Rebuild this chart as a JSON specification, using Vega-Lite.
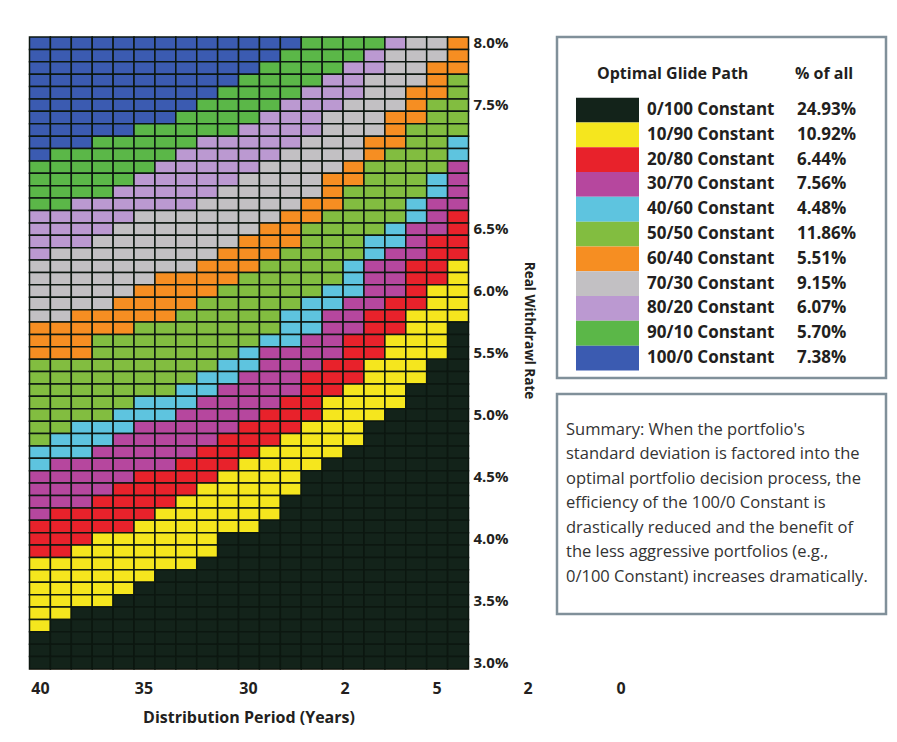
{
"$schema":"https://vega.github.io/schema/vega-lite/v6.json",
"background":"white",
"padding":{"left":28,"top":35,"right":4,"bottom":4},
"bounds":"flush",
"spacing":89,
"config":{"font":"Open Sans","view":{"stroke":null}},
"hconcat":[
{
"width":439,"height":632,
"view":{"stroke":"#f1c6b5","strokeWidth":1},
"layer":[
{
"data":{"values":[
{"yr":40,"rate":8,"eq":100},{"yr":39,"rate":8,"eq":100},{"yr":38,"rate":8,"eq":100},{"yr":37,"rate":8,"eq":100},{"yr":36,"rate":8,"eq":100},{"yr":35,"rate":8,"eq":100},{"yr":34,"rate":8,"eq":100},{"yr":33,"rate":8,"eq":100},{"yr":32,"rate":8,"eq":100},{"yr":31,"rate":8,"eq":100},{"yr":30,"rate":8,"eq":100},{"yr":29,"rate":8,"eq":100},{"yr":28,"rate":8,"eq":100},{"yr":27,"rate":8,"eq":90},{"yr":26,"rate":8,"eq":90},{"yr":25,"rate":8,"eq":90},{"yr":24,"rate":8,"eq":90},{"yr":23,"rate":8,"eq":80},{"yr":22,"rate":8,"eq":70},{"yr":21,"rate":8,"eq":70},{"yr":20,"rate":8,"eq":60},
{"yr":40,"rate":7.9,"eq":100},{"yr":39,"rate":7.9,"eq":100},{"yr":38,"rate":7.9,"eq":100},{"yr":37,"rate":7.9,"eq":100},{"yr":36,"rate":7.9,"eq":100},{"yr":35,"rate":7.9,"eq":100},{"yr":34,"rate":7.9,"eq":100},{"yr":33,"rate":7.9,"eq":100},{"yr":32,"rate":7.9,"eq":100},{"yr":31,"rate":7.9,"eq":100},{"yr":30,"rate":7.9,"eq":100},{"yr":29,"rate":7.9,"eq":100},{"yr":28,"rate":7.9,"eq":90},{"yr":27,"rate":7.9,"eq":90},{"yr":26,"rate":7.9,"eq":90},{"yr":25,"rate":7.9,"eq":90},{"yr":24,"rate":7.9,"eq":80},{"yr":23,"rate":7.9,"eq":70},{"yr":22,"rate":7.9,"eq":70},{"yr":21,"rate":7.9,"eq":70},{"yr":20,"rate":7.9,"eq":60},
{"yr":40,"rate":7.8,"eq":100},{"yr":39,"rate":7.8,"eq":100},{"yr":38,"rate":7.8,"eq":100},{"yr":37,"rate":7.8,"eq":100},{"yr":36,"rate":7.8,"eq":100},{"yr":35,"rate":7.8,"eq":100},{"yr":34,"rate":7.8,"eq":100},{"yr":33,"rate":7.8,"eq":100},{"yr":32,"rate":7.8,"eq":100},{"yr":31,"rate":7.8,"eq":100},{"yr":30,"rate":7.8,"eq":100},{"yr":29,"rate":7.8,"eq":90},{"yr":28,"rate":7.8,"eq":90},{"yr":27,"rate":7.8,"eq":90},{"yr":26,"rate":7.8,"eq":90},{"yr":25,"rate":7.8,"eq":80},{"yr":24,"rate":7.8,"eq":80},{"yr":23,"rate":7.8,"eq":70},{"yr":22,"rate":7.8,"eq":70},{"yr":21,"rate":7.8,"eq":60},{"yr":20,"rate":7.8,"eq":60},
{"yr":40,"rate":7.7,"eq":100},{"yr":39,"rate":7.7,"eq":100},{"yr":38,"rate":7.7,"eq":100},{"yr":37,"rate":7.7,"eq":100},{"yr":36,"rate":7.7,"eq":100},{"yr":35,"rate":7.7,"eq":100},{"yr":34,"rate":7.7,"eq":100},{"yr":33,"rate":7.7,"eq":100},{"yr":32,"rate":7.7,"eq":100},{"yr":31,"rate":7.7,"eq":100},{"yr":30,"rate":7.7,"eq":90},{"yr":29,"rate":7.7,"eq":90},{"yr":28,"rate":7.7,"eq":90},{"yr":27,"rate":7.7,"eq":90},{"yr":26,"rate":7.7,"eq":80},{"yr":25,"rate":7.7,"eq":80},{"yr":24,"rate":7.7,"eq":70},{"yr":23,"rate":7.7,"eq":70},{"yr":22,"rate":7.7,"eq":70},{"yr":21,"rate":7.7,"eq":60},{"yr":20,"rate":7.7,"eq":50},
{"yr":40,"rate":7.6,"eq":100},{"yr":39,"rate":7.6,"eq":100},{"yr":38,"rate":7.6,"eq":100},{"yr":37,"rate":7.6,"eq":100},{"yr":36,"rate":7.6,"eq":100},{"yr":35,"rate":7.6,"eq":100},{"yr":34,"rate":7.6,"eq":100},{"yr":33,"rate":7.6,"eq":100},{"yr":32,"rate":7.6,"eq":100},{"yr":31,"rate":7.6,"eq":90},{"yr":30,"rate":7.6,"eq":90},{"yr":29,"rate":7.6,"eq":90},{"yr":28,"rate":7.6,"eq":90},{"yr":27,"rate":7.6,"eq":80},{"yr":26,"rate":7.6,"eq":80},{"yr":25,"rate":7.6,"eq":80},{"yr":24,"rate":7.6,"eq":70},{"yr":23,"rate":7.6,"eq":70},{"yr":22,"rate":7.6,"eq":60},{"yr":21,"rate":7.6,"eq":60},{"yr":20,"rate":7.6,"eq":50},
{"yr":40,"rate":7.5,"eq":100},{"yr":39,"rate":7.5,"eq":100},{"yr":38,"rate":7.5,"eq":100},{"yr":37,"rate":7.5,"eq":100},{"yr":36,"rate":7.5,"eq":100},{"yr":35,"rate":7.5,"eq":100},{"yr":34,"rate":7.5,"eq":100},{"yr":33,"rate":7.5,"eq":100},{"yr":32,"rate":7.5,"eq":90},{"yr":31,"rate":7.5,"eq":90},{"yr":30,"rate":7.5,"eq":90},{"yr":29,"rate":7.5,"eq":90},{"yr":28,"rate":7.5,"eq":80},{"yr":27,"rate":7.5,"eq":80},{"yr":26,"rate":7.5,"eq":80},{"yr":25,"rate":7.5,"eq":70},{"yr":24,"rate":7.5,"eq":70},{"yr":23,"rate":7.5,"eq":70},{"yr":22,"rate":7.5,"eq":60},{"yr":21,"rate":7.5,"eq":50},{"yr":20,"rate":7.5,"eq":50},
{"yr":40,"rate":7.4,"eq":100},{"yr":39,"rate":7.4,"eq":100},{"yr":38,"rate":7.4,"eq":100},{"yr":37,"rate":7.4,"eq":100},{"yr":36,"rate":7.4,"eq":100},{"yr":35,"rate":7.4,"eq":100},{"yr":34,"rate":7.4,"eq":100},{"yr":33,"rate":7.4,"eq":90},{"yr":32,"rate":7.4,"eq":90},{"yr":31,"rate":7.4,"eq":90},{"yr":30,"rate":7.4,"eq":90},{"yr":29,"rate":7.4,"eq":80},{"yr":28,"rate":7.4,"eq":80},{"yr":27,"rate":7.4,"eq":80},{"yr":26,"rate":7.4,"eq":70},{"yr":25,"rate":7.4,"eq":70},{"yr":24,"rate":7.4,"eq":70},{"yr":23,"rate":7.4,"eq":60},{"yr":22,"rate":7.4,"eq":60},{"yr":21,"rate":7.4,"eq":50},{"yr":20,"rate":7.4,"eq":50},
{"yr":40,"rate":7.3,"eq":100},{"yr":39,"rate":7.3,"eq":100},{"yr":38,"rate":7.3,"eq":100},{"yr":37,"rate":7.3,"eq":100},{"yr":36,"rate":7.3,"eq":100},{"yr":35,"rate":7.3,"eq":90},{"yr":34,"rate":7.3,"eq":90},{"yr":33,"rate":7.3,"eq":90},{"yr":32,"rate":7.3,"eq":90},{"yr":31,"rate":7.3,"eq":90},{"yr":30,"rate":7.3,"eq":80},{"yr":29,"rate":7.3,"eq":80},{"yr":28,"rate":7.3,"eq":80},{"yr":27,"rate":7.3,"eq":80},{"yr":26,"rate":7.3,"eq":70},{"yr":25,"rate":7.3,"eq":70},{"yr":24,"rate":7.3,"eq":70},{"yr":23,"rate":7.3,"eq":60},{"yr":22,"rate":7.3,"eq":50},{"yr":21,"rate":7.3,"eq":50},{"yr":20,"rate":7.3,"eq":50},
{"yr":40,"rate":7.2,"eq":100},{"yr":39,"rate":7.2,"eq":100},{"yr":38,"rate":7.2,"eq":100},{"yr":37,"rate":7.2,"eq":90},{"yr":36,"rate":7.2,"eq":90},{"yr":35,"rate":7.2,"eq":90},{"yr":34,"rate":7.2,"eq":90},{"yr":33,"rate":7.2,"eq":90},{"yr":32,"rate":7.2,"eq":80},{"yr":31,"rate":7.2,"eq":80},{"yr":30,"rate":7.2,"eq":80},{"yr":29,"rate":7.2,"eq":80},{"yr":28,"rate":7.2,"eq":80},{"yr":27,"rate":7.2,"eq":70},{"yr":26,"rate":7.2,"eq":70},{"yr":25,"rate":7.2,"eq":70},{"yr":24,"rate":7.2,"eq":60},{"yr":23,"rate":7.2,"eq":60},{"yr":22,"rate":7.2,"eq":50},{"yr":21,"rate":7.2,"eq":50},{"yr":20,"rate":7.2,"eq":40},
{"yr":40,"rate":7.1,"eq":100},{"yr":39,"rate":7.1,"eq":90},{"yr":38,"rate":7.1,"eq":90},{"yr":37,"rate":7.1,"eq":90},{"yr":36,"rate":7.1,"eq":90},{"yr":35,"rate":7.1,"eq":90},{"yr":34,"rate":7.1,"eq":90},{"yr":33,"rate":7.1,"eq":80},{"yr":32,"rate":7.1,"eq":80},{"yr":31,"rate":7.1,"eq":80},{"yr":30,"rate":7.1,"eq":80},{"yr":29,"rate":7.1,"eq":80},{"yr":28,"rate":7.1,"eq":70},{"yr":27,"rate":7.1,"eq":70},{"yr":26,"rate":7.1,"eq":70},{"yr":25,"rate":7.1,"eq":70},{"yr":24,"rate":7.1,"eq":60},{"yr":23,"rate":7.1,"eq":50},{"yr":22,"rate":7.1,"eq":50},{"yr":21,"rate":7.1,"eq":50},{"yr":20,"rate":7.1,"eq":40},
{"yr":40,"rate":7,"eq":90},{"yr":39,"rate":7,"eq":90},{"yr":38,"rate":7,"eq":90},{"yr":37,"rate":7,"eq":90},{"yr":36,"rate":7,"eq":90},{"yr":35,"rate":7,"eq":90},{"yr":34,"rate":7,"eq":80},{"yr":33,"rate":7,"eq":80},{"yr":32,"rate":7,"eq":80},{"yr":31,"rate":7,"eq":80},{"yr":30,"rate":7,"eq":80},{"yr":29,"rate":7,"eq":70},{"yr":28,"rate":7,"eq":70},{"yr":27,"rate":7,"eq":70},{"yr":26,"rate":7,"eq":70},{"yr":25,"rate":7,"eq":60},{"yr":24,"rate":7,"eq":50},{"yr":23,"rate":7,"eq":50},{"yr":22,"rate":7,"eq":50},{"yr":21,"rate":7,"eq":50},{"yr":20,"rate":7,"eq":30},
{"yr":40,"rate":6.9,"eq":90},{"yr":39,"rate":6.9,"eq":90},{"yr":38,"rate":6.9,"eq":90},{"yr":37,"rate":6.9,"eq":90},{"yr":36,"rate":6.9,"eq":90},{"yr":35,"rate":6.9,"eq":80},{"yr":34,"rate":6.9,"eq":80},{"yr":33,"rate":6.9,"eq":80},{"yr":32,"rate":6.9,"eq":80},{"yr":31,"rate":6.9,"eq":80},{"yr":30,"rate":6.9,"eq":70},{"yr":29,"rate":6.9,"eq":70},{"yr":28,"rate":6.9,"eq":70},{"yr":27,"rate":6.9,"eq":70},{"yr":26,"rate":6.9,"eq":60},{"yr":25,"rate":6.9,"eq":60},{"yr":24,"rate":6.9,"eq":50},{"yr":23,"rate":6.9,"eq":50},{"yr":22,"rate":6.9,"eq":50},{"yr":21,"rate":6.9,"eq":40},{"yr":20,"rate":6.9,"eq":30},
{"yr":40,"rate":6.8,"eq":90},{"yr":39,"rate":6.8,"eq":90},{"yr":38,"rate":6.8,"eq":90},{"yr":37,"rate":6.8,"eq":90},{"yr":36,"rate":6.8,"eq":80},{"yr":35,"rate":6.8,"eq":80},{"yr":34,"rate":6.8,"eq":80},{"yr":33,"rate":6.8,"eq":80},{"yr":32,"rate":6.8,"eq":80},{"yr":31,"rate":6.8,"eq":70},{"yr":30,"rate":6.8,"eq":70},{"yr":29,"rate":6.8,"eq":70},{"yr":28,"rate":6.8,"eq":70},{"yr":27,"rate":6.8,"eq":70},{"yr":26,"rate":6.8,"eq":60},{"yr":25,"rate":6.8,"eq":50},{"yr":24,"rate":6.8,"eq":50},{"yr":23,"rate":6.8,"eq":50},{"yr":22,"rate":6.8,"eq":50},{"yr":21,"rate":6.8,"eq":40},{"yr":20,"rate":6.8,"eq":30},
{"yr":40,"rate":6.7,"eq":90},{"yr":39,"rate":6.7,"eq":90},{"yr":38,"rate":6.7,"eq":80},{"yr":37,"rate":6.7,"eq":80},{"yr":36,"rate":6.7,"eq":80},{"yr":35,"rate":6.7,"eq":80},{"yr":34,"rate":6.7,"eq":80},{"yr":33,"rate":6.7,"eq":80},{"yr":32,"rate":6.7,"eq":70},{"yr":31,"rate":6.7,"eq":70},{"yr":30,"rate":6.7,"eq":70},{"yr":29,"rate":6.7,"eq":70},{"yr":28,"rate":6.7,"eq":70},{"yr":27,"rate":6.7,"eq":60},{"yr":26,"rate":6.7,"eq":60},{"yr":25,"rate":6.7,"eq":50},{"yr":24,"rate":6.7,"eq":50},{"yr":23,"rate":6.7,"eq":50},{"yr":22,"rate":6.7,"eq":40},{"yr":21,"rate":6.7,"eq":30},{"yr":20,"rate":6.7,"eq":30},
{"yr":40,"rate":6.6,"eq":80},{"yr":39,"rate":6.6,"eq":80},{"yr":38,"rate":6.6,"eq":80},{"yr":37,"rate":6.6,"eq":80},{"yr":36,"rate":6.6,"eq":80},{"yr":35,"rate":6.6,"eq":70},{"yr":34,"rate":6.6,"eq":70},{"yr":33,"rate":6.6,"eq":70},{"yr":32,"rate":6.6,"eq":70},{"yr":31,"rate":6.6,"eq":70},{"yr":30,"rate":6.6,"eq":70},{"yr":29,"rate":6.6,"eq":70},{"yr":28,"rate":6.6,"eq":60},{"yr":27,"rate":6.6,"eq":60},{"yr":26,"rate":6.6,"eq":50},{"yr":25,"rate":6.6,"eq":50},{"yr":24,"rate":6.6,"eq":50},{"yr":23,"rate":6.6,"eq":50},{"yr":22,"rate":6.6,"eq":40},{"yr":21,"rate":6.6,"eq":30},{"yr":20,"rate":6.6,"eq":20},
{"yr":40,"rate":6.5,"eq":80},{"yr":39,"rate":6.5,"eq":80},{"yr":38,"rate":6.5,"eq":80},{"yr":37,"rate":6.5,"eq":80},{"yr":36,"rate":6.5,"eq":70},{"yr":35,"rate":6.5,"eq":70},{"yr":34,"rate":6.5,"eq":70},{"yr":33,"rate":6.5,"eq":70},{"yr":32,"rate":6.5,"eq":70},{"yr":31,"rate":6.5,"eq":70},{"yr":30,"rate":6.5,"eq":70},{"yr":29,"rate":6.5,"eq":60},{"yr":28,"rate":6.5,"eq":60},{"yr":27,"rate":6.5,"eq":50},{"yr":26,"rate":6.5,"eq":50},{"yr":25,"rate":6.5,"eq":50},{"yr":24,"rate":6.5,"eq":50},{"yr":23,"rate":6.5,"eq":40},{"yr":22,"rate":6.5,"eq":30},{"yr":21,"rate":6.5,"eq":30},{"yr":20,"rate":6.5,"eq":20},
{"yr":40,"rate":6.4,"eq":80},{"yr":39,"rate":6.4,"eq":80},{"yr":38,"rate":6.4,"eq":80},{"yr":37,"rate":6.4,"eq":70},{"yr":36,"rate":6.4,"eq":70},{"yr":35,"rate":6.4,"eq":70},{"yr":34,"rate":6.4,"eq":70},{"yr":33,"rate":6.4,"eq":70},{"yr":32,"rate":6.4,"eq":70},{"yr":31,"rate":6.4,"eq":70},{"yr":30,"rate":6.4,"eq":60},{"yr":29,"rate":6.4,"eq":60},{"yr":28,"rate":6.4,"eq":60},{"yr":27,"rate":6.4,"eq":50},{"yr":26,"rate":6.4,"eq":50},{"yr":25,"rate":6.4,"eq":50},{"yr":24,"rate":6.4,"eq":40},{"yr":23,"rate":6.4,"eq":40},{"yr":22,"rate":6.4,"eq":30},{"yr":21,"rate":6.4,"eq":20},{"yr":20,"rate":6.4,"eq":20},
{"yr":40,"rate":6.3,"eq":80},{"yr":39,"rate":6.3,"eq":70},{"yr":38,"rate":6.3,"eq":70},{"yr":37,"rate":6.3,"eq":70},{"yr":36,"rate":6.3,"eq":70},{"yr":35,"rate":6.3,"eq":70},{"yr":34,"rate":6.3,"eq":70},{"yr":33,"rate":6.3,"eq":70},{"yr":32,"rate":6.3,"eq":70},{"yr":31,"rate":6.3,"eq":60},{"yr":30,"rate":6.3,"eq":60},{"yr":29,"rate":6.3,"eq":60},{"yr":28,"rate":6.3,"eq":50},{"yr":27,"rate":6.3,"eq":50},{"yr":26,"rate":6.3,"eq":50},{"yr":25,"rate":6.3,"eq":50},{"yr":24,"rate":6.3,"eq":40},{"yr":23,"rate":6.3,"eq":30},{"yr":22,"rate":6.3,"eq":30},{"yr":21,"rate":6.3,"eq":20},{"yr":20,"rate":6.3,"eq":20},
{"yr":40,"rate":6.2,"eq":70},{"yr":39,"rate":6.2,"eq":70},{"yr":38,"rate":6.2,"eq":70},{"yr":37,"rate":6.2,"eq":70},{"yr":36,"rate":6.2,"eq":70},{"yr":35,"rate":6.2,"eq":70},{"yr":34,"rate":6.2,"eq":70},{"yr":33,"rate":6.2,"eq":70},{"yr":32,"rate":6.2,"eq":60},{"yr":31,"rate":6.2,"eq":60},{"yr":30,"rate":6.2,"eq":60},{"yr":29,"rate":6.2,"eq":50},{"yr":28,"rate":6.2,"eq":50},{"yr":27,"rate":6.2,"eq":50},{"yr":26,"rate":6.2,"eq":50},{"yr":25,"rate":6.2,"eq":40},{"yr":24,"rate":6.2,"eq":30},{"yr":23,"rate":6.2,"eq":30},{"yr":22,"rate":6.2,"eq":20},{"yr":21,"rate":6.2,"eq":20},{"yr":20,"rate":6.2,"eq":10},
{"yr":40,"rate":6.1,"eq":70},{"yr":39,"rate":6.1,"eq":70},{"yr":38,"rate":6.1,"eq":70},{"yr":37,"rate":6.1,"eq":70},{"yr":36,"rate":6.1,"eq":70},{"yr":35,"rate":6.1,"eq":70},{"yr":34,"rate":6.1,"eq":60},{"yr":33,"rate":6.1,"eq":60},{"yr":32,"rate":6.1,"eq":60},{"yr":31,"rate":6.1,"eq":60},{"yr":30,"rate":6.1,"eq":50},{"yr":29,"rate":6.1,"eq":50},{"yr":28,"rate":6.1,"eq":50},{"yr":27,"rate":6.1,"eq":50},{"yr":26,"rate":6.1,"eq":50},{"yr":25,"rate":6.1,"eq":40},{"yr":24,"rate":6.1,"eq":30},{"yr":23,"rate":6.1,"eq":30},{"yr":22,"rate":6.1,"eq":20},{"yr":21,"rate":6.1,"eq":20},{"yr":20,"rate":6.1,"eq":10},
{"yr":40,"rate":6,"eq":70},{"yr":39,"rate":6,"eq":70},{"yr":38,"rate":6,"eq":70},{"yr":37,"rate":6,"eq":70},{"yr":36,"rate":6,"eq":70},{"yr":35,"rate":6,"eq":60},{"yr":34,"rate":6,"eq":60},{"yr":33,"rate":6,"eq":60},{"yr":32,"rate":6,"eq":60},{"yr":31,"rate":6,"eq":50},{"yr":30,"rate":6,"eq":50},{"yr":29,"rate":6,"eq":50},{"yr":28,"rate":6,"eq":50},{"yr":27,"rate":6,"eq":50},{"yr":26,"rate":6,"eq":40},{"yr":25,"rate":6,"eq":40},{"yr":24,"rate":6,"eq":30},{"yr":23,"rate":6,"eq":30},{"yr":22,"rate":6,"eq":20},{"yr":21,"rate":6,"eq":10},{"yr":20,"rate":6,"eq":10},
{"yr":40,"rate":5.9,"eq":70},{"yr":39,"rate":5.9,"eq":70},{"yr":38,"rate":5.9,"eq":70},{"yr":37,"rate":5.9,"eq":70},{"yr":36,"rate":5.9,"eq":60},{"yr":35,"rate":5.9,"eq":60},{"yr":34,"rate":5.9,"eq":60},{"yr":33,"rate":5.9,"eq":60},{"yr":32,"rate":5.9,"eq":50},{"yr":31,"rate":5.9,"eq":50},{"yr":30,"rate":5.9,"eq":50},{"yr":29,"rate":5.9,"eq":50},{"yr":28,"rate":5.9,"eq":50},{"yr":27,"rate":5.9,"eq":40},{"yr":26,"rate":5.9,"eq":40},{"yr":25,"rate":5.9,"eq":30},{"yr":24,"rate":5.9,"eq":30},{"yr":23,"rate":5.9,"eq":20},{"yr":22,"rate":5.9,"eq":20},{"yr":21,"rate":5.9,"eq":10},{"yr":20,"rate":5.9,"eq":10},
{"yr":40,"rate":5.8,"eq":70},{"yr":39,"rate":5.8,"eq":70},{"yr":38,"rate":5.8,"eq":60},{"yr":37,"rate":5.8,"eq":60},{"yr":36,"rate":5.8,"eq":60},{"yr":35,"rate":5.8,"eq":60},{"yr":34,"rate":5.8,"eq":60},{"yr":33,"rate":5.8,"eq":50},{"yr":32,"rate":5.8,"eq":50},{"yr":31,"rate":5.8,"eq":50},{"yr":30,"rate":5.8,"eq":50},{"yr":29,"rate":5.8,"eq":50},{"yr":28,"rate":5.8,"eq":40},{"yr":27,"rate":5.8,"eq":40},{"yr":26,"rate":5.8,"eq":30},{"yr":25,"rate":5.8,"eq":30},{"yr":24,"rate":5.8,"eq":20},{"yr":23,"rate":5.8,"eq":20},{"yr":22,"rate":5.8,"eq":10},{"yr":21,"rate":5.8,"eq":10},{"yr":20,"rate":5.8,"eq":10},
{"yr":40,"rate":5.7,"eq":60},{"yr":39,"rate":5.7,"eq":60},{"yr":38,"rate":5.7,"eq":60},{"yr":37,"rate":5.7,"eq":60},{"yr":36,"rate":5.7,"eq":60},{"yr":35,"rate":5.7,"eq":50},{"yr":34,"rate":5.7,"eq":50},{"yr":33,"rate":5.7,"eq":50},{"yr":32,"rate":5.7,"eq":50},{"yr":31,"rate":5.7,"eq":50},{"yr":30,"rate":5.7,"eq":50},{"yr":29,"rate":5.7,"eq":50},{"yr":28,"rate":5.7,"eq":40},{"yr":27,"rate":5.7,"eq":40},{"yr":26,"rate":5.7,"eq":30},{"yr":25,"rate":5.7,"eq":30},{"yr":24,"rate":5.7,"eq":20},{"yr":23,"rate":5.7,"eq":20},{"yr":22,"rate":5.7,"eq":10},{"yr":21,"rate":5.7,"eq":10},{"yr":20,"rate":5.7,"eq":0},
{"yr":40,"rate":5.6,"eq":60},{"yr":39,"rate":5.6,"eq":60},{"yr":38,"rate":5.6,"eq":60},{"yr":37,"rate":5.6,"eq":50},{"yr":36,"rate":5.6,"eq":50},{"yr":35,"rate":5.6,"eq":50},{"yr":34,"rate":5.6,"eq":50},{"yr":33,"rate":5.6,"eq":50},{"yr":32,"rate":5.6,"eq":50},{"yr":31,"rate":5.6,"eq":50},{"yr":30,"rate":5.6,"eq":50},{"yr":29,"rate":5.6,"eq":40},{"yr":28,"rate":5.6,"eq":40},{"yr":27,"rate":5.6,"eq":30},{"yr":26,"rate":5.6,"eq":30},{"yr":25,"rate":5.6,"eq":20},{"yr":24,"rate":5.6,"eq":20},{"yr":23,"rate":5.6,"eq":10},{"yr":22,"rate":5.6,"eq":10},{"yr":21,"rate":5.6,"eq":10},{"yr":20,"rate":5.6,"eq":0},
{"yr":40,"rate":5.5,"eq":60},{"yr":39,"rate":5.5,"eq":60},{"yr":38,"rate":5.5,"eq":60},{"yr":37,"rate":5.5,"eq":50},{"yr":36,"rate":5.5,"eq":50},{"yr":35,"rate":5.5,"eq":50},{"yr":34,"rate":5.5,"eq":50},{"yr":33,"rate":5.5,"eq":50},{"yr":32,"rate":5.5,"eq":50},{"yr":31,"rate":5.5,"eq":50},{"yr":30,"rate":5.5,"eq":40},{"yr":29,"rate":5.5,"eq":30},{"yr":28,"rate":5.5,"eq":30},{"yr":27,"rate":5.5,"eq":30},{"yr":26,"rate":5.5,"eq":30},{"yr":25,"rate":5.5,"eq":20},{"yr":24,"rate":5.5,"eq":20},{"yr":23,"rate":5.5,"eq":10},{"yr":22,"rate":5.5,"eq":10},{"yr":21,"rate":5.5,"eq":10},{"yr":20,"rate":5.5,"eq":0},
{"yr":40,"rate":5.4,"eq":50},{"yr":39,"rate":5.4,"eq":50},{"yr":38,"rate":5.4,"eq":50},{"yr":37,"rate":5.4,"eq":50},{"yr":36,"rate":5.4,"eq":50},{"yr":35,"rate":5.4,"eq":50},{"yr":34,"rate":5.4,"eq":50},{"yr":33,"rate":5.4,"eq":50},{"yr":32,"rate":5.4,"eq":50},{"yr":31,"rate":5.4,"eq":40},{"yr":30,"rate":5.4,"eq":40},{"yr":29,"rate":5.4,"eq":30},{"yr":28,"rate":5.4,"eq":30},{"yr":27,"rate":5.4,"eq":30},{"yr":26,"rate":5.4,"eq":20},{"yr":25,"rate":5.4,"eq":20},{"yr":24,"rate":5.4,"eq":10},{"yr":23,"rate":5.4,"eq":10},{"yr":22,"rate":5.4,"eq":10},{"yr":21,"rate":5.4,"eq":0},{"yr":20,"rate":5.4,"eq":0},
{"yr":40,"rate":5.3,"eq":50},{"yr":39,"rate":5.3,"eq":50},{"yr":38,"rate":5.3,"eq":50},{"yr":37,"rate":5.3,"eq":50},{"yr":36,"rate":5.3,"eq":50},{"yr":35,"rate":5.3,"eq":50},{"yr":34,"rate":5.3,"eq":50},{"yr":33,"rate":5.3,"eq":50},{"yr":32,"rate":5.3,"eq":40},{"yr":31,"rate":5.3,"eq":40},{"yr":30,"rate":5.3,"eq":30},{"yr":29,"rate":5.3,"eq":30},{"yr":28,"rate":5.3,"eq":30},{"yr":27,"rate":5.3,"eq":20},{"yr":26,"rate":5.3,"eq":20},{"yr":25,"rate":5.3,"eq":20},{"yr":24,"rate":5.3,"eq":10},{"yr":23,"rate":5.3,"eq":10},{"yr":22,"rate":5.3,"eq":10},{"yr":21,"rate":5.3,"eq":0},{"yr":20,"rate":5.3,"eq":0},
{"yr":40,"rate":5.2,"eq":50},{"yr":39,"rate":5.2,"eq":50},{"yr":38,"rate":5.2,"eq":50},{"yr":37,"rate":5.2,"eq":50},{"yr":36,"rate":5.2,"eq":50},{"yr":35,"rate":5.2,"eq":50},{"yr":34,"rate":5.2,"eq":50},{"yr":33,"rate":5.2,"eq":40},{"yr":32,"rate":5.2,"eq":40},{"yr":31,"rate":5.2,"eq":30},{"yr":30,"rate":5.2,"eq":30},{"yr":29,"rate":5.2,"eq":30},{"yr":28,"rate":5.2,"eq":30},{"yr":27,"rate":5.2,"eq":20},{"yr":26,"rate":5.2,"eq":20},{"yr":25,"rate":5.2,"eq":10},{"yr":24,"rate":5.2,"eq":10},{"yr":23,"rate":5.2,"eq":10},{"yr":22,"rate":5.2,"eq":0},{"yr":21,"rate":5.2,"eq":0},{"yr":20,"rate":5.2,"eq":0},
{"yr":40,"rate":5.1,"eq":50},{"yr":39,"rate":5.1,"eq":50},{"yr":38,"rate":5.1,"eq":50},{"yr":37,"rate":5.1,"eq":50},{"yr":36,"rate":5.1,"eq":50},{"yr":35,"rate":5.1,"eq":40},{"yr":34,"rate":5.1,"eq":40},{"yr":33,"rate":5.1,"eq":40},{"yr":32,"rate":5.1,"eq":30},{"yr":31,"rate":5.1,"eq":30},{"yr":30,"rate":5.1,"eq":30},{"yr":29,"rate":5.1,"eq":30},{"yr":28,"rate":5.1,"eq":20},{"yr":27,"rate":5.1,"eq":20},{"yr":26,"rate":5.1,"eq":10},{"yr":25,"rate":5.1,"eq":10},{"yr":24,"rate":5.1,"eq":10},{"yr":23,"rate":5.1,"eq":10},{"yr":22,"rate":5.1,"eq":0},{"yr":21,"rate":5.1,"eq":0},{"yr":20,"rate":5.1,"eq":0},
{"yr":40,"rate":5,"eq":50},{"yr":39,"rate":5,"eq":50},{"yr":38,"rate":5,"eq":50},{"yr":37,"rate":5,"eq":50},{"yr":36,"rate":5,"eq":40},{"yr":35,"rate":5,"eq":40},{"yr":34,"rate":5,"eq":40},{"yr":33,"rate":5,"eq":30},{"yr":32,"rate":5,"eq":30},{"yr":31,"rate":5,"eq":30},{"yr":30,"rate":5,"eq":30},{"yr":29,"rate":5,"eq":20},{"yr":28,"rate":5,"eq":20},{"yr":27,"rate":5,"eq":20},{"yr":26,"rate":5,"eq":10},{"yr":25,"rate":5,"eq":10},{"yr":24,"rate":5,"eq":10},{"yr":23,"rate":5,"eq":0},{"yr":22,"rate":5,"eq":0},{"yr":21,"rate":5,"eq":0},{"yr":20,"rate":5,"eq":0},
{"yr":40,"rate":4.9,"eq":50},{"yr":39,"rate":4.9,"eq":50},{"yr":38,"rate":4.9,"eq":40},{"yr":37,"rate":4.9,"eq":40},{"yr":36,"rate":4.9,"eq":40},{"yr":35,"rate":4.9,"eq":30},{"yr":34,"rate":4.9,"eq":30},{"yr":33,"rate":4.9,"eq":30},{"yr":32,"rate":4.9,"eq":30},{"yr":31,"rate":4.9,"eq":30},{"yr":30,"rate":4.9,"eq":20},{"yr":29,"rate":4.9,"eq":20},{"yr":28,"rate":4.9,"eq":20},{"yr":27,"rate":4.9,"eq":10},{"yr":26,"rate":4.9,"eq":10},{"yr":25,"rate":4.9,"eq":10},{"yr":24,"rate":4.9,"eq":0},{"yr":23,"rate":4.9,"eq":0},{"yr":22,"rate":4.9,"eq":0},{"yr":21,"rate":4.9,"eq":0},{"yr":20,"rate":4.9,"eq":0},
{"yr":40,"rate":4.8,"eq":50},{"yr":39,"rate":4.8,"eq":40},{"yr":38,"rate":4.8,"eq":40},{"yr":37,"rate":4.8,"eq":40},{"yr":36,"rate":4.8,"eq":30},{"yr":35,"rate":4.8,"eq":30},{"yr":34,"rate":4.8,"eq":30},{"yr":33,"rate":4.8,"eq":30},{"yr":32,"rate":4.8,"eq":30},{"yr":31,"rate":4.8,"eq":20},{"yr":30,"rate":4.8,"eq":20},{"yr":29,"rate":4.8,"eq":20},{"yr":28,"rate":4.8,"eq":10},{"yr":27,"rate":4.8,"eq":10},{"yr":26,"rate":4.8,"eq":10},{"yr":25,"rate":4.8,"eq":10},{"yr":24,"rate":4.8,"eq":0},{"yr":23,"rate":4.8,"eq":0},{"yr":22,"rate":4.8,"eq":0},{"yr":21,"rate":4.8,"eq":0},{"yr":20,"rate":4.8,"eq":0},
{"yr":40,"rate":4.7,"eq":40},{"yr":39,"rate":4.7,"eq":40},{"yr":38,"rate":4.7,"eq":40},{"yr":37,"rate":4.7,"eq":30},{"yr":36,"rate":4.7,"eq":30},{"yr":35,"rate":4.7,"eq":30},{"yr":34,"rate":4.7,"eq":30},{"yr":33,"rate":4.7,"eq":30},{"yr":32,"rate":4.7,"eq":20},{"yr":31,"rate":4.7,"eq":20},{"yr":30,"rate":4.7,"eq":20},{"yr":29,"rate":4.7,"eq":10},{"yr":28,"rate":4.7,"eq":10},{"yr":27,"rate":4.7,"eq":10},{"yr":26,"rate":4.7,"eq":10},{"yr":25,"rate":4.7,"eq":0},{"yr":24,"rate":4.7,"eq":0},{"yr":23,"rate":4.7,"eq":0},{"yr":22,"rate":4.7,"eq":0},{"yr":21,"rate":4.7,"eq":0},{"yr":20,"rate":4.7,"eq":0},
{"yr":40,"rate":4.6,"eq":40},{"yr":39,"rate":4.6,"eq":30},{"yr":38,"rate":4.6,"eq":30},{"yr":37,"rate":4.6,"eq":30},{"yr":36,"rate":4.6,"eq":30},{"yr":35,"rate":4.6,"eq":30},{"yr":34,"rate":4.6,"eq":30},{"yr":33,"rate":4.6,"eq":20},{"yr":32,"rate":4.6,"eq":20},{"yr":31,"rate":4.6,"eq":20},{"yr":30,"rate":4.6,"eq":10},{"yr":29,"rate":4.6,"eq":10},{"yr":28,"rate":4.6,"eq":10},{"yr":27,"rate":4.6,"eq":10},{"yr":26,"rate":4.6,"eq":0},{"yr":25,"rate":4.6,"eq":0},{"yr":24,"rate":4.6,"eq":0},{"yr":23,"rate":4.6,"eq":0},{"yr":22,"rate":4.6,"eq":0},{"yr":21,"rate":4.6,"eq":0},{"yr":20,"rate":4.6,"eq":0},
{"yr":40,"rate":4.5,"eq":30},{"yr":39,"rate":4.5,"eq":30},{"yr":38,"rate":4.5,"eq":30},{"yr":37,"rate":4.5,"eq":30},{"yr":36,"rate":4.5,"eq":30},{"yr":35,"rate":4.5,"eq":20},{"yr":34,"rate":4.5,"eq":20},{"yr":33,"rate":4.5,"eq":20},{"yr":32,"rate":4.5,"eq":20},{"yr":31,"rate":4.5,"eq":10},{"yr":30,"rate":4.5,"eq":10},{"yr":29,"rate":4.5,"eq":10},{"yr":28,"rate":4.5,"eq":10},{"yr":27,"rate":4.5,"eq":0},{"yr":26,"rate":4.5,"eq":0},{"yr":25,"rate":4.5,"eq":0},{"yr":24,"rate":4.5,"eq":0},{"yr":23,"rate":4.5,"eq":0},{"yr":22,"rate":4.5,"eq":0},{"yr":21,"rate":4.5,"eq":0},{"yr":20,"rate":4.5,"eq":0},
{"yr":40,"rate":4.4,"eq":30},{"yr":39,"rate":4.4,"eq":30},{"yr":38,"rate":4.4,"eq":30},{"yr":37,"rate":4.4,"eq":30},{"yr":36,"rate":4.4,"eq":20},{"yr":35,"rate":4.4,"eq":20},{"yr":34,"rate":4.4,"eq":20},{"yr":33,"rate":4.4,"eq":20},{"yr":32,"rate":4.4,"eq":10},{"yr":31,"rate":4.4,"eq":10},{"yr":30,"rate":4.4,"eq":10},{"yr":29,"rate":4.4,"eq":10},{"yr":28,"rate":4.4,"eq":10},{"yr":27,"rate":4.4,"eq":0},{"yr":26,"rate":4.4,"eq":0},{"yr":25,"rate":4.4,"eq":0},{"yr":24,"rate":4.4,"eq":0},{"yr":23,"rate":4.4,"eq":0},{"yr":22,"rate":4.4,"eq":0},{"yr":21,"rate":4.4,"eq":0},{"yr":20,"rate":4.4,"eq":0},
{"yr":40,"rate":4.3,"eq":30},{"yr":39,"rate":4.3,"eq":30},{"yr":38,"rate":4.3,"eq":30},{"yr":37,"rate":4.3,"eq":20},{"yr":36,"rate":4.3,"eq":20},{"yr":35,"rate":4.3,"eq":20},{"yr":34,"rate":4.3,"eq":20},{"yr":33,"rate":4.3,"eq":10},{"yr":32,"rate":4.3,"eq":10},{"yr":31,"rate":4.3,"eq":10},{"yr":30,"rate":4.3,"eq":10},{"yr":29,"rate":4.3,"eq":10},{"yr":28,"rate":4.3,"eq":0},{"yr":27,"rate":4.3,"eq":0},{"yr":26,"rate":4.3,"eq":0},{"yr":25,"rate":4.3,"eq":0},{"yr":24,"rate":4.3,"eq":0},{"yr":23,"rate":4.3,"eq":0},{"yr":22,"rate":4.3,"eq":0},{"yr":21,"rate":4.3,"eq":0},{"yr":20,"rate":4.3,"eq":0},
{"yr":40,"rate":4.2,"eq":30},{"yr":39,"rate":4.2,"eq":20},{"yr":38,"rate":4.2,"eq":20},{"yr":37,"rate":4.2,"eq":20},{"yr":36,"rate":4.2,"eq":20},{"yr":35,"rate":4.2,"eq":20},{"yr":34,"rate":4.2,"eq":10},{"yr":33,"rate":4.2,"eq":10},{"yr":32,"rate":4.2,"eq":10},{"yr":31,"rate":4.2,"eq":10},{"yr":30,"rate":4.2,"eq":10},{"yr":29,"rate":4.2,"eq":10},{"yr":28,"rate":4.2,"eq":0},{"yr":27,"rate":4.2,"eq":0},{"yr":26,"rate":4.2,"eq":0},{"yr":25,"rate":4.2,"eq":0},{"yr":24,"rate":4.2,"eq":0},{"yr":23,"rate":4.2,"eq":0},{"yr":22,"rate":4.2,"eq":0},{"yr":21,"rate":4.2,"eq":0},{"yr":20,"rate":4.2,"eq":0},
{"yr":40,"rate":4.1,"eq":20},{"yr":39,"rate":4.1,"eq":20},{"yr":38,"rate":4.1,"eq":20},{"yr":37,"rate":4.1,"eq":20},{"yr":36,"rate":4.1,"eq":20},{"yr":35,"rate":4.1,"eq":10},{"yr":34,"rate":4.1,"eq":10},{"yr":33,"rate":4.1,"eq":10},{"yr":32,"rate":4.1,"eq":10},{"yr":31,"rate":4.1,"eq":10},{"yr":30,"rate":4.1,"eq":10},{"yr":29,"rate":4.1,"eq":0},{"yr":28,"rate":4.1,"eq":0},{"yr":27,"rate":4.1,"eq":0},{"yr":26,"rate":4.1,"eq":0},{"yr":25,"rate":4.1,"eq":0},{"yr":24,"rate":4.1,"eq":0},{"yr":23,"rate":4.1,"eq":0},{"yr":22,"rate":4.1,"eq":0},{"yr":21,"rate":4.1,"eq":0},{"yr":20,"rate":4.1,"eq":0},
{"yr":40,"rate":4,"eq":20},{"yr":39,"rate":4,"eq":20},{"yr":38,"rate":4,"eq":20},{"yr":37,"rate":4,"eq":10},{"yr":36,"rate":4,"eq":10},{"yr":35,"rate":4,"eq":10},{"yr":34,"rate":4,"eq":10},{"yr":33,"rate":4,"eq":10},{"yr":32,"rate":4,"eq":10},{"yr":31,"rate":4,"eq":0},{"yr":30,"rate":4,"eq":0},{"yr":29,"rate":4,"eq":0},{"yr":28,"rate":4,"eq":0},{"yr":27,"rate":4,"eq":0},{"yr":26,"rate":4,"eq":0},{"yr":25,"rate":4,"eq":0},{"yr":24,"rate":4,"eq":0},{"yr":23,"rate":4,"eq":0},{"yr":22,"rate":4,"eq":0},{"yr":21,"rate":4,"eq":0},{"yr":20,"rate":4,"eq":0},
{"yr":40,"rate":3.9,"eq":20},{"yr":39,"rate":3.9,"eq":20},{"yr":38,"rate":3.9,"eq":10},{"yr":37,"rate":3.9,"eq":10},{"yr":36,"rate":3.9,"eq":10},{"yr":35,"rate":3.9,"eq":10},{"yr":34,"rate":3.9,"eq":10},{"yr":33,"rate":3.9,"eq":10},{"yr":32,"rate":3.9,"eq":10},{"yr":31,"rate":3.9,"eq":0},{"yr":30,"rate":3.9,"eq":0},{"yr":29,"rate":3.9,"eq":0},{"yr":28,"rate":3.9,"eq":0},{"yr":27,"rate":3.9,"eq":0},{"yr":26,"rate":3.9,"eq":0},{"yr":25,"rate":3.9,"eq":0},{"yr":24,"rate":3.9,"eq":0},{"yr":23,"rate":3.9,"eq":0},{"yr":22,"rate":3.9,"eq":0},{"yr":21,"rate":3.9,"eq":0},{"yr":20,"rate":3.9,"eq":0},
{"yr":40,"rate":3.8,"eq":10},{"yr":39,"rate":3.8,"eq":10},{"yr":38,"rate":3.8,"eq":10},{"yr":37,"rate":3.8,"eq":10},{"yr":36,"rate":3.8,"eq":10},{"yr":35,"rate":3.8,"eq":10},{"yr":34,"rate":3.8,"eq":10},{"yr":33,"rate":3.8,"eq":10},{"yr":32,"rate":3.8,"eq":0},{"yr":31,"rate":3.8,"eq":0},{"yr":30,"rate":3.8,"eq":0},{"yr":29,"rate":3.8,"eq":0},{"yr":28,"rate":3.8,"eq":0},{"yr":27,"rate":3.8,"eq":0},{"yr":26,"rate":3.8,"eq":0},{"yr":25,"rate":3.8,"eq":0},{"yr":24,"rate":3.8,"eq":0},{"yr":23,"rate":3.8,"eq":0},{"yr":22,"rate":3.8,"eq":0},{"yr":21,"rate":3.8,"eq":0},{"yr":20,"rate":3.8,"eq":0},
{"yr":40,"rate":3.7,"eq":10},{"yr":39,"rate":3.7,"eq":10},{"yr":38,"rate":3.7,"eq":10},{"yr":37,"rate":3.7,"eq":10},{"yr":36,"rate":3.7,"eq":10},{"yr":35,"rate":3.7,"eq":10},{"yr":34,"rate":3.7,"eq":0},{"yr":33,"rate":3.7,"eq":0},{"yr":32,"rate":3.7,"eq":0},{"yr":31,"rate":3.7,"eq":0},{"yr":30,"rate":3.7,"eq":0},{"yr":29,"rate":3.7,"eq":0},{"yr":28,"rate":3.7,"eq":0},{"yr":27,"rate":3.7,"eq":0},{"yr":26,"rate":3.7,"eq":0},{"yr":25,"rate":3.7,"eq":0},{"yr":24,"rate":3.7,"eq":0},{"yr":23,"rate":3.7,"eq":0},{"yr":22,"rate":3.7,"eq":0},{"yr":21,"rate":3.7,"eq":0},{"yr":20,"rate":3.7,"eq":0},
{"yr":40,"rate":3.6,"eq":10},{"yr":39,"rate":3.6,"eq":10},{"yr":38,"rate":3.6,"eq":10},{"yr":37,"rate":3.6,"eq":10},{"yr":36,"rate":3.6,"eq":10},{"yr":35,"rate":3.6,"eq":0},{"yr":34,"rate":3.6,"eq":0},{"yr":33,"rate":3.6,"eq":0},{"yr":32,"rate":3.6,"eq":0},{"yr":31,"rate":3.6,"eq":0},{"yr":30,"rate":3.6,"eq":0},{"yr":29,"rate":3.6,"eq":0},{"yr":28,"rate":3.6,"eq":0},{"yr":27,"rate":3.6,"eq":0},{"yr":26,"rate":3.6,"eq":0},{"yr":25,"rate":3.6,"eq":0},{"yr":24,"rate":3.6,"eq":0},{"yr":23,"rate":3.6,"eq":0},{"yr":22,"rate":3.6,"eq":0},{"yr":21,"rate":3.6,"eq":0},{"yr":20,"rate":3.6,"eq":0},
{"yr":40,"rate":3.5,"eq":10},{"yr":39,"rate":3.5,"eq":10},{"yr":38,"rate":3.5,"eq":10},{"yr":37,"rate":3.5,"eq":10},{"yr":36,"rate":3.5,"eq":0},{"yr":35,"rate":3.5,"eq":0},{"yr":34,"rate":3.5,"eq":0},{"yr":33,"rate":3.5,"eq":0},{"yr":32,"rate":3.5,"eq":0},{"yr":31,"rate":3.5,"eq":0},{"yr":30,"rate":3.5,"eq":0},{"yr":29,"rate":3.5,"eq":0},{"yr":28,"rate":3.5,"eq":0},{"yr":27,"rate":3.5,"eq":0},{"yr":26,"rate":3.5,"eq":0},{"yr":25,"rate":3.5,"eq":0},{"yr":24,"rate":3.5,"eq":0},{"yr":23,"rate":3.5,"eq":0},{"yr":22,"rate":3.5,"eq":0},{"yr":21,"rate":3.5,"eq":0},{"yr":20,"rate":3.5,"eq":0},
{"yr":40,"rate":3.4,"eq":10},{"yr":39,"rate":3.4,"eq":10},{"yr":38,"rate":3.4,"eq":0},{"yr":37,"rate":3.4,"eq":0},{"yr":36,"rate":3.4,"eq":0},{"yr":35,"rate":3.4,"eq":0},{"yr":34,"rate":3.4,"eq":0},{"yr":33,"rate":3.4,"eq":0},{"yr":32,"rate":3.4,"eq":0},{"yr":31,"rate":3.4,"eq":0},{"yr":30,"rate":3.4,"eq":0},{"yr":29,"rate":3.4,"eq":0},{"yr":28,"rate":3.4,"eq":0},{"yr":27,"rate":3.4,"eq":0},{"yr":26,"rate":3.4,"eq":0},{"yr":25,"rate":3.4,"eq":0},{"yr":24,"rate":3.4,"eq":0},{"yr":23,"rate":3.4,"eq":0},{"yr":22,"rate":3.4,"eq":0},{"yr":21,"rate":3.4,"eq":0},{"yr":20,"rate":3.4,"eq":0},
{"yr":40,"rate":3.3,"eq":10},{"yr":39,"rate":3.3,"eq":0},{"yr":38,"rate":3.3,"eq":0},{"yr":37,"rate":3.3,"eq":0},{"yr":36,"rate":3.3,"eq":0},{"yr":35,"rate":3.3,"eq":0},{"yr":34,"rate":3.3,"eq":0},{"yr":33,"rate":3.3,"eq":0},{"yr":32,"rate":3.3,"eq":0},{"yr":31,"rate":3.3,"eq":0},{"yr":30,"rate":3.3,"eq":0},{"yr":29,"rate":3.3,"eq":0},{"yr":28,"rate":3.3,"eq":0},{"yr":27,"rate":3.3,"eq":0},{"yr":26,"rate":3.3,"eq":0},{"yr":25,"rate":3.3,"eq":0},{"yr":24,"rate":3.3,"eq":0},{"yr":23,"rate":3.3,"eq":0},{"yr":22,"rate":3.3,"eq":0},{"yr":21,"rate":3.3,"eq":0},{"yr":20,"rate":3.3,"eq":0},
{"yr":40,"rate":3.2,"eq":0},{"yr":39,"rate":3.2,"eq":0},{"yr":38,"rate":3.2,"eq":0},{"yr":37,"rate":3.2,"eq":0},{"yr":36,"rate":3.2,"eq":0},{"yr":35,"rate":3.2,"eq":0},{"yr":34,"rate":3.2,"eq":0},{"yr":33,"rate":3.2,"eq":0},{"yr":32,"rate":3.2,"eq":0},{"yr":31,"rate":3.2,"eq":0},{"yr":30,"rate":3.2,"eq":0},{"yr":29,"rate":3.2,"eq":0},{"yr":28,"rate":3.2,"eq":0},{"yr":27,"rate":3.2,"eq":0},{"yr":26,"rate":3.2,"eq":0},{"yr":25,"rate":3.2,"eq":0},{"yr":24,"rate":3.2,"eq":0},{"yr":23,"rate":3.2,"eq":0},{"yr":22,"rate":3.2,"eq":0},{"yr":21,"rate":3.2,"eq":0},{"yr":20,"rate":3.2,"eq":0},
{"yr":40,"rate":3.1,"eq":0},{"yr":39,"rate":3.1,"eq":0},{"yr":38,"rate":3.1,"eq":0},{"yr":37,"rate":3.1,"eq":0},{"yr":36,"rate":3.1,"eq":0},{"yr":35,"rate":3.1,"eq":0},{"yr":34,"rate":3.1,"eq":0},{"yr":33,"rate":3.1,"eq":0},{"yr":32,"rate":3.1,"eq":0},{"yr":31,"rate":3.1,"eq":0},{"yr":30,"rate":3.1,"eq":0},{"yr":29,"rate":3.1,"eq":0},{"yr":28,"rate":3.1,"eq":0},{"yr":27,"rate":3.1,"eq":0},{"yr":26,"rate":3.1,"eq":0},{"yr":25,"rate":3.1,"eq":0},{"yr":24,"rate":3.1,"eq":0},{"yr":23,"rate":3.1,"eq":0},{"yr":22,"rate":3.1,"eq":0},{"yr":21,"rate":3.1,"eq":0},{"yr":20,"rate":3.1,"eq":0},
{"yr":40,"rate":3,"eq":0},{"yr":39,"rate":3,"eq":0},{"yr":38,"rate":3,"eq":0},{"yr":37,"rate":3,"eq":0},{"yr":36,"rate":3,"eq":0},{"yr":35,"rate":3,"eq":0},{"yr":34,"rate":3,"eq":0},{"yr":33,"rate":3,"eq":0},{"yr":32,"rate":3,"eq":0},{"yr":31,"rate":3,"eq":0},{"yr":30,"rate":3,"eq":0},{"yr":29,"rate":3,"eq":0},{"yr":28,"rate":3,"eq":0},{"yr":27,"rate":3,"eq":0},{"yr":26,"rate":3,"eq":0},{"yr":25,"rate":3,"eq":0},{"yr":24,"rate":3,"eq":0},{"yr":23,"rate":3,"eq":0},{"yr":22,"rate":3,"eq":0},{"yr":21,"rate":3,"eq":0},{"yr":20,"rate":3,"eq":0}
]},
"mark":{"type":"rect","stroke":"#0c1710","strokeWidth":1.5},
"encoding":{
"x":{"field":"yr","type":"quantitative","bin":{"binned":true,"step":1},"scale":{"domain":[20,41],"reverse":true,"nice":false,"zero":false},
"axis":{"title":"Distribution Period (Years)","labels":false,"ticks":false,"domain":false,"grid":false,"titlePadding":40,"titleFontSize":16,"titleFontWeight":"bold","titleColor":"#231f20","titleFont":"Open Sans"}},
"y":{"field":"rate","type":"ordinal","sort":"descending","scale":{"paddingInner":0,"paddingOuter":0},
"axis":{"orient":"right","values":[8,7.5,6.5,6,5.5,5,4.5,4,3.5,3],"labelExpr":"format(datum.value,'.1f')+'%'","ticks":false,"domain":false,"grid":false,"labelPadding":5,"labelFontSize":15,"labelFontWeight":"bold","labelColor":"#231f20","labelFont":"Open Sans","title":"Real Withdrawl Rate","titleAngle":90,"titleFontSize":13.5,"titleFontWeight":"bold","titleColor":"#231f20","titleFont":"Open Sans","titleX":56,"titleY":293,"titleAlign":"center","titleBaseline":"alphabetic"}},
"fill":{"field":"eq","type":"ordinal","scale":{"domain":[0,10,20,30,40,50,60,70,80,90,100],"range":["#13231a","#f5e61e","#e8222b","#b6479e","#5ec4df","#82bd40","#f68e22","#c2c0c3","#bb99d1","#5bb748","#3b5bb1"]},"legend":null}
}
},
{
"data":{"values":[{"lab":"40","pos":40.45},{"lab":"35","pos":35.5},{"lab":"30","pos":30.5},{"lab":"2","pos":25.88},{"lab":"5","pos":21.48},{"lab":"2","pos":17.13},{"lab":"0","pos":12.68}]},
"mark":{"type":"text","fontSize":16,"fontWeight":"bold","color":"#231f20","baseline":"middle","align":"center","dy":26},
"encoding":{
"x":{"field":"pos","type":"quantitative"},
"y":{"datum":3,"type":"ordinal"},
"text":{"field":"lab"}
}
}
]
},
{
"vconcat":[
{
"width":329,"height":341,
"view":{"stroke":"#80909a","strokeWidth":2.5},
"data":{"values":[
{"eq":0,"name":"0/100 Constant","pct":"24.93%"},
{"eq":10,"name":"10/90 Constant","pct":"10.92%"},
{"eq":20,"name":"20/80 Constant","pct":"6.44%"},
{"eq":30,"name":"30/70 Constant","pct":"7.56%"},
{"eq":40,"name":"40/60 Constant","pct":"4.48%"},
{"eq":50,"name":"50/50 Constant","pct":"11.86%"},
{"eq":60,"name":"60/40 Constant","pct":"5.51%"},
{"eq":70,"name":"70/30 Constant","pct":"9.15%"},
{"eq":80,"name":"80/20 Constant","pct":"6.07%"},
{"eq":90,"name":"90/10 Constant","pct":"5.70%"},
{"eq":100,"name":"100/0 Constant","pct":"7.38%"}
]},
"layer":[
{
"mark":{"type":"rect"},
"encoding":{
"x":{"datum":"swatch","type":"nominal","scale":{"type":"band","domain":["swatch","pct"],"paddingInner":0.7149,"paddingOuter":0.1018,"align":0.4222},"axis":null},
"y":{"field":"name","type":"nominal","scale":{"type":"band","domain":["Optimal Glide Path","0/100 Constant","10/90 Constant","20/80 Constant","30/70 Constant","40/60 Constant","50/50 Constant","60/40 Constant","70/30 Constant","80/20 Constant","90/10 Constant","100/0 Constant"],"paddingInner":0,"paddingOuter":0.875,"align":0.826},"axis":null},
"fill":{"field":"eq","type":"ordinal","scale":{"domain":[0,10,20,30,40,50,60,70,80,90,100],"range":["#13231a","#f5e61e","#e8222b","#b6479e","#5ec4df","#82bd40","#f68e22","#c2c0c3","#bb99d1","#5bb748","#3b5bb1"]},"legend":null}
}
},
{
"mark":{"type":"text","align":"left","baseline":"middle","dx":8,"fontSize":17,"fontWeight":"bold","color":"#231f20"},
"encoding":{
"x":{"datum":"swatch","type":"nominal","bandPosition":1},
"y":{"field":"name","type":"nominal"},
"text":{"field":"name"}
}
},
{
"mark":{"type":"text","align":"left","baseline":"middle","dx":0,"fontSize":17,"fontWeight":"bold","color":"#231f20"},
"encoding":{
"x":{"datum":"pct","type":"nominal","bandPosition":0},
"y":{"field":"name","type":"nominal"},
"text":{"field":"pct"}
}
},
{
"data":{"values":[{"h":"Optimal Glide Path"}]},
"mark":{"type":"text","align":"left","baseline":"middle","dx":21,"dy":-11,"fontSize":16,"fontWeight":"bold","color":"#231f20"},
"encoding":{
"x":{"datum":"swatch","type":"nominal","bandPosition":0},
"y":{"datum":"Optimal Glide Path","type":"nominal"},
"text":{"field":"h"}
}
},
{
"data":{"values":[{"h":"% of all"}]},
"mark":{"type":"text","align":"left","baseline":"middle","dx":-2,"dy":-11,"fontSize":16,"fontWeight":"bold","color":"#231f20"},
"encoding":{
"x":{"datum":"pct","type":"nominal","bandPosition":0},
"y":{"datum":"Optimal Glide Path","type":"nominal"},
"text":{"field":"h"}
}
}
]
},
{
"width":329,"height":220,
"view":{"stroke":"#80909a","strokeWidth":2.5},
"data":{"values":[
{"line":1,"t":"Summary:  When the portfolio's"},
{"line":2,"t":"standard deviation is factored into the"},
{"line":3,"t":"optimal portfolio decision process, the"},
{"line":4,"t":"efficiency of the 100/0 Constant is"},
{"line":5,"t":"drastically reduced and the benefit of"},
{"line":6,"t":"the less aggressive portfolios (e.g.,"},
{"line":7,"t":"0/100 Constant) increases dramatically."}
]},
"mark":{"type":"text","align":"left","baseline":"middle","dx":9,"fontSize":16.5,"color":"#333333"},
"encoding":{
"x":{"datum":0,"type":"quantitative","scale":{"domain":[0,1]},"axis":null},
"y":{"field":"line","type":"ordinal","scale":{"type":"band","paddingInner":0,"paddingOuter":1,"align":0.487},"axis":null},
"text":{"field":"t"}
}
}
],
"spacing":16,
"bounds":"flush",
"resolve":{"scale":{"x":"independent","y":"independent"}}
}
],
"resolve":{"scale":{"x":"independent","y":"independent"}}
}
